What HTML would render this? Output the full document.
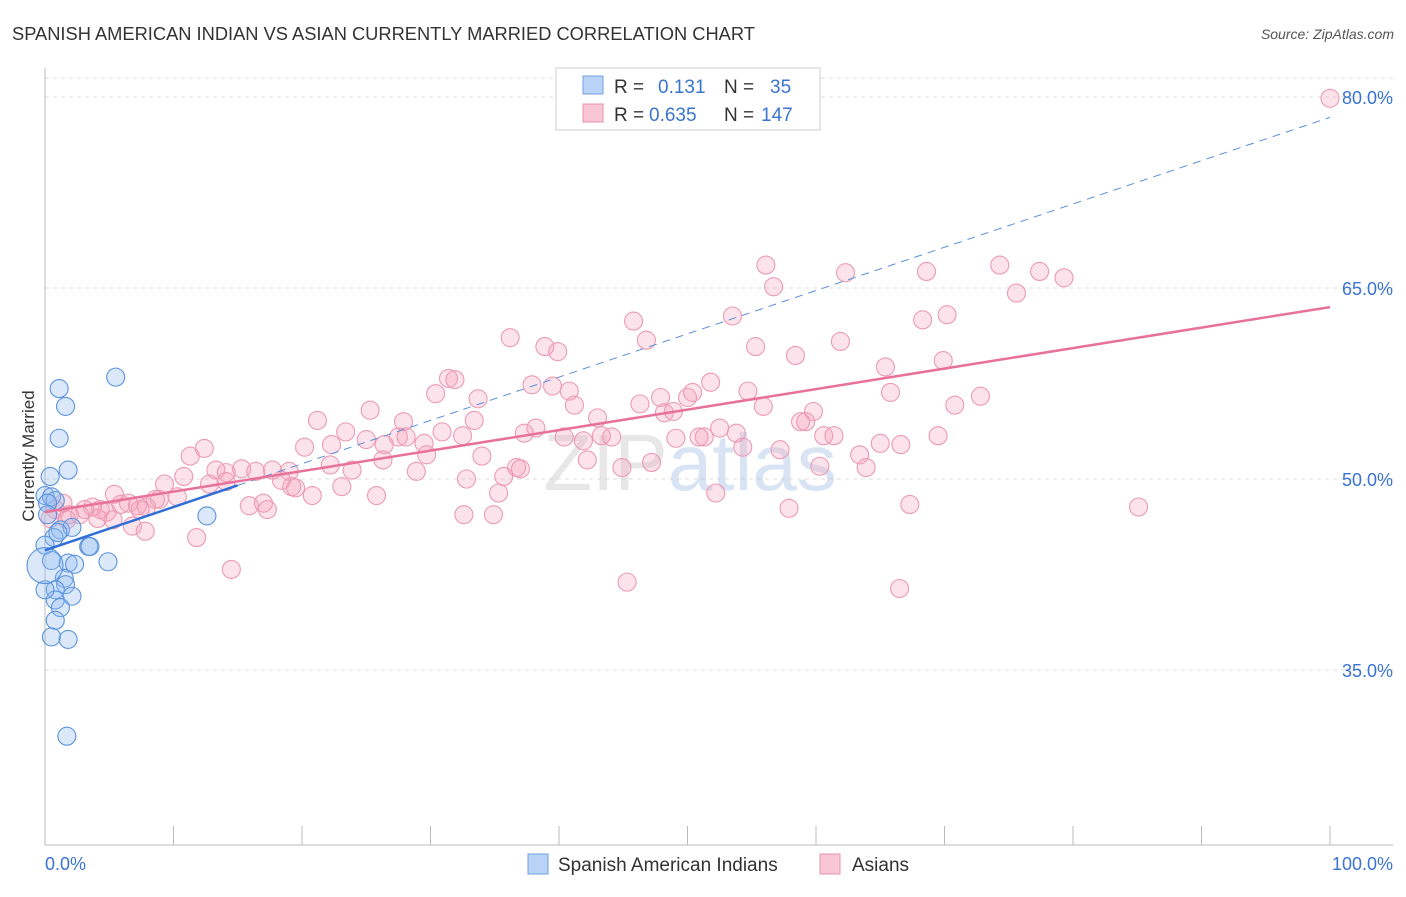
<!DOCTYPE html>
<html><head><meta charset="utf-8"><style>
body{margin:0;background:#fff;font-family:"Liberation Sans",sans-serif}
svg text{font-family:"Liberation Sans",sans-serif}
</style></head><body>
<svg width="1406" height="892" xmlns="http://www.w3.org/2000/svg">
<text x="12" y="40" font-size="18.3" fill="#333">SPANISH AMERICAN INDIAN VS ASIAN CURRENTLY MARRIED CORRELATION CHART</text>
<text x="1394" y="39" font-size="14" fill="#555" text-anchor="end" font-style="italic">Source: ZipAtlas.com</text>
<g id="grid"></g>
<text x="690" y="490" font-size="80" fill="#ccc" opacity="0.45" text-anchor="middle" font-family="Liberation Serif">ZIP<tspan fill="#aac4e8">atlas</tspan></text>
<g id="pts"></g>
<g id="lines"></g>
<text transform="translate(34,456) rotate(-90)" font-size="17" fill="#333" text-anchor="middle">Currently Married</text>
<g>
<rect x="556" y="68" width="264" height="62" fill="#fff" stroke="#ccc"/>
<rect x="583" y="76" width="20" height="18" fill="#b8d3f5" stroke="#6f9fe0"/>
<rect x="583" y="104" width="20" height="18" fill="#f9c6d5" stroke="#ea93ae"/>
<text x="614" y="93" font-size="19" fill="#333">R = <tspan x="658" fill="#3a74d0">0.131</tspan><tspan x="724">N =</tspan><tspan x="770" fill="#3a74d0">35</tspan></text>
<text x="614" y="121" font-size="19" fill="#333">R = <tspan x="649" fill="#3a74d0">0.635</tspan><tspan x="724">N =</tspan><tspan x="761" fill="#3a74d0">147</tspan></text>
</g>
<g>
<rect x="528" y="854" width="20" height="20" fill="#b8d3f5" stroke="#6f9fe0"/>
<text x="558" y="871" font-size="19" fill="#333">Spanish American Indians</text>
<rect x="820" y="854" width="20" height="20" fill="#f9c6d5" stroke="#ea93ae"/>
<text x="852" y="871" font-size="19" fill="#333">Asians</text>
</g>
<text x="45" y="870" font-size="18" fill="#3a74d0">0.0%</text>
<text x="1393" y="870" font-size="18" fill="#3a74d0" text-anchor="end">100.0%</text>
</svg>
<script>
const yTicks=[80,65,50,35];
const blueX=[1.1,1.6,1.1,1.8,5.5,0.4,0,0.5,0.8,0.2,1.2,2.1,0.7,0,0.5,3.4,4.9,1.8,2.3,1.5,1.6,0.8,2.1,0.8,1.2,0.8,0.5,1.8,1.7,12.6,0.2,1.0,3.5,0];
const blueY=[57.1,55.7,53.2,50.7,58.0,50.2,48.7,48.6,48.3,48.1,46.0,46.2,45.4,44.8,43.6,44.7,43.5,43.4,43.3,42.2,41.7,41.3,40.8,40.5,39.9,38.9,37.6,37.4,29.8,47.1,47.2,45.8,44.7,41.3];
const pinkX=[100,56.1,62.3,68.6,74.3,77.4,79.3,56.7,75.6,45.8,53.5,68.3,70.2,46.8,36.2,38.9,39.9,55.3,61.9,58.4,65.4,69.9,31.4,31.9,30.4,37.9,39.5,40.8,51.8,54.7,65.8,72.8,33.7,41.2,43.0,46.3,47.9,50.0,50.4,48.2,48.9,55.9,59.8,59.2,70.8,21.2,25.3,27.9,33.4,30.9,32.5,38.2,37.3,40.4,41.9,43.3,44.1,49.1,51.3,52.5,53.8,54.3,57.2,58.8,60.6,61.4,65.0,66.6,69.5,20.2,22.3,23.4,25.0,26.4,27.5,28.1,29.5,29.7,34.0,36.7,42.2,44.9,47.2,50.9,63.4,63.9,60.3,10.8,12.4,11.3,13.3,14.1,15.3,16.4,17.7,19.0,22.2,23.9,26.3,28.9,32.8,35.7,35.3,37.0,19.5,20.8,23.1,25.8,18.4,19.2,14.1,12.8,9.3,10.3,8.9,8.6,5.4,5.9,6.5,7.2,7.9,7.4,3.7,4.3,4.8,3.1,2.7,1.9,1.4,0.8,0.4,1.7,4.1,5.3,6.8,7.8,11.8,14.5,15.9,17.3,32.6,34.9,52.2,57.9,67.3,85.1,45.3,66.5,17.0];
const pinkY=[79.9,66.8,66.2,66.3,66.8,66.3,65.8,65.1,64.6,62.4,62.8,62.5,62.9,60.9,61.1,60.4,60.0,60.4,60.8,59.7,58.8,59.3,57.9,57.8,56.7,57.4,57.3,56.9,57.6,56.9,56.8,56.5,56.3,55.8,54.8,55.9,56.4,56.4,56.8,55.2,55.3,55.7,55.3,54.5,55.8,54.6,55.4,54.5,54.6,53.7,53.4,54.0,53.6,53.3,53.0,53.4,53.3,53.2,53.3,54.0,53.6,52.5,52.3,54.5,53.4,53.4,52.8,52.7,53.4,52.5,52.7,53.7,53.1,52.7,53.3,53.3,52.8,51.9,51.8,50.9,51.5,50.9,51.3,53.3,51.9,50.9,51.0,50.2,52.4,51.8,50.7,50.5,50.8,50.6,50.7,50.6,51.1,50.7,51.5,50.6,50.0,50.2,48.9,50.8,49.3,48.7,49.4,48.7,49.9,49.4,49.8,49.6,49.6,48.6,48.4,48.4,48.8,48.0,48.1,47.9,47.8,47.6,47.8,47.6,47.4,47.6,47.2,47.2,48.1,47.6,46.9,46.8,46.9,46.8,46.3,45.9,45.4,42.9,47.9,47.6,47.2,47.2,48.9,47.7,48.0,47.8,41.9,41.4,48.1];
const blueTrend=[44.4,0.34];
const pinkTrend=[47.4,0.161];
const X=v=>45+v*12.85, Y=v=>97+(80-v)*12.733;
const NS='http://www.w3.org/2000/svg';
function mk(t,a,p){const e=document.createElementNS(NS,t);for(const k in a)e.setAttribute(k,a[k]);p.appendChild(e);return e;}
const g=document.getElementById('grid');
mk('line',{x1:45,x2:1393,y1:78,y2:78,stroke:'#ddd','stroke-dasharray':'4,4'},g);
yTicks.forEach(t=>{
  const l=mk('line',{x1:45,x2:1393,y1:Y(t),y2:Y(t),stroke:'#ddd','stroke-dasharray':'4,4'},g);
  
  
  const tx=mk('text',{x:1393,y:Y(t)+7,'font-size':18,fill:'#3a74d0','text-anchor':'end'},g);
  tx.textContent=t.toFixed(1)+'%';
  
  
});
mk('line',{x1:45,x2:45,y1:68,y2:845,stroke:'#bbb'},g);
mk('line',{x1:45,x2:1393,y1:845,y2:845,stroke:'#bbb'},g);
for(let i=0;i<=10;i++){const t=mk('line',{x1:X(i*10),x2:X(i*10),y1:826,y2:845,stroke:'#bbb'},g);
 
 }
const P=document.getElementById('pts');
pinkX.forEach((x,i)=>{const c=mk('circle',{cx:X(x),cy:Y(pinkY[i]),r:9,fill:'rgba(244,160,186,0.3)',stroke:'#ec9ab3','stroke-width':1.1},P);
 
 });
blueX.forEach((x,i)=>{const c=mk('circle',{cx:X(x),cy:Y(blueY[i]),r:9,fill:'rgba(150,190,240,0.35)',stroke:'#5b93de','stroke-width':1.1},P);
 
 });
const big=mk('circle',{cx:X(0),cy:Y(43.2),r:18,fill:'rgba(150,190,240,0.35)',stroke:'#5b93de','stroke-width':1.1},P);


const L=document.getElementById('lines');
const d=mk('line',{x1:X(15),y1:Y(blueTrend[0]+blueTrend[1]*15),x2:X(100),y2:Y(blueTrend[0]+blueTrend[1]*100),stroke:'#5b8fdc','stroke-width':1,'stroke-dasharray':'8,6'},L);


const b=mk('line',{x1:X(0),y1:Y(blueTrend[0]),x2:X(15),y2:Y(blueTrend[0]+blueTrend[1]*15),stroke:'#2f6fd6','stroke-width':2.5},L);


const p=mk('line',{x1:X(0),y1:Y(pinkTrend[0]),x2:X(100),y2:Y(pinkTrend[0]+pinkTrend[1]*100),stroke:'#e8719a','stroke-width':2.5},L);


</script>
</body></html>
